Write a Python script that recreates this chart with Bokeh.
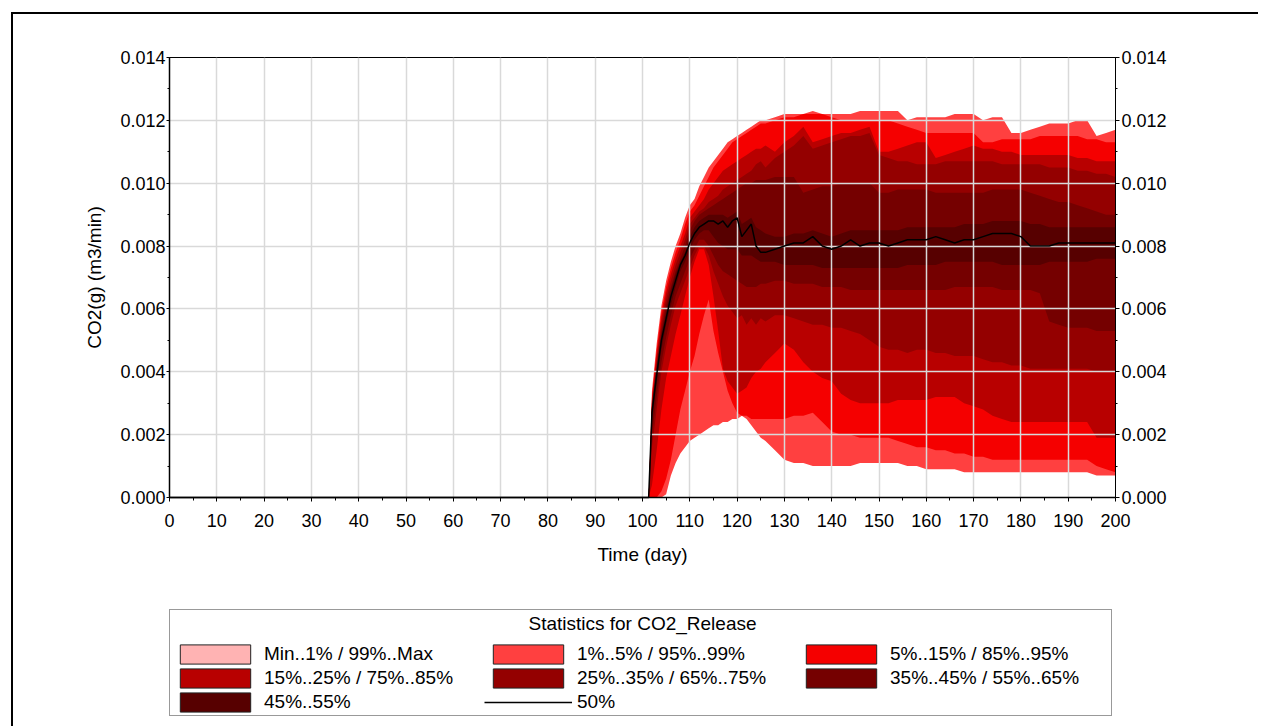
from bokeh.plotting import figure
from bokeh.layouts import column
from bokeh.models import (Range1d, LinearAxis, SingleIntervalTicker, NumeralTickFormatter,
                          Legend, LegendItem, ColumnDataSource, Label)
from bokeh.embed import file_html
from bokeh.resources import INLINE

# ---------------- data ----------------
days = [0, 100, 101.3,
        102, 103, 104, 105, 106, 107, 108, 109, 110, 111, 112, 113, 114, 115, 116, 117, 118, 119,
        120, 121, 122, 123, 124, 125, 126,
        128, 130, 132, 134, 136, 138, 140, 142, 144, 146, 148, 150, 152, 154, 156, 158, 160,
        162, 164, 166, 168, 170, 172, 174, 176, 178, 180, 182, 184, 186, 188, 190, 192, 194,
        196, 198, 200]

p99 = [0, 0, 0,
       .0034, .0049, .0061, .0069, .0075, .0080, .0084, .0089, .0093, .0095, .0099, .0102, .0105,
       .0107, .0109, .0111, .0113, .0114, .0115, .0116, .0117, .0118, .0119, .0120, .0120,
       .0121, .0122, .0122, .0122, .0123, .0122, .0122, .0122, .0122, .0123, .0123, .0123, .0123,
       .0123, .0120, .0121, .0121, .0121, .0121, .0122, .0122, .0122, .0120, .0121, .0121, .0116,
       .0116, .0117, .0118, .0119, .0119, .0119, .0120, .0120, .0115, .0116, .0117]
p95 = [0, 0, 0,
       .0032, .0047, .0059, .0067, .0073, .0078, .0082, .0087, .0091, .0093, .0096, .0099, .0102,
       .0105, .0107, .0109, .0111, .0113, .0114, .0115, .0116, .0117, .0118, .0119, .0119,
       .0120, .0121, .0121, .0122, .0122, .0122, .0121, .0120, .0120, .0120, .0120, .0120, .0120,
       .0119, .0118, .0117, .0116, .0116, .0116, .0116, .0116, .0116, .0113, .0113, .0114, .0114,
       .0114, .0114, .0115, .0115, .0115, .0115, .0115, .0114, .0114, .0113, .0113]
p85 = [0, 0, 0,
       .0031, .0045, .0057, .0065, .0071, .0076, .0080, .0084, .0089, .0091, .0093, .0095, .0098,
       .0100, .0102, .0104, .0105, .0106, .0107, .0108, .0109, .0110, .0111, .0111, .0112,
       .0110, .0113, .0115, .0118, .0113, .0114, .0115, .0116, .0116, .0117, .0118, .0110, .0110,
       .0111, .0112, .0113, .0113, .0108, .0109, .0110, .0111, .0112, .0111, .0111, .0110, .0110,
       .0109, .0109, .0109, .0109, .0109, .0109, .0108, .0108, .0107, .0107, .0107]
p75 = [0, 0, 0,
       .0030, .0043, .0055, .0063, .0069, .0074, .0078, .0082, .0087, .0089, .0091, .0092, .0094,
       .0095, .0096, .0098, .0099, .0100, .0101, .0102, .0103, .0104, .0106, .0107, .0105,
       .0108, .0110, .0112, .0115, .0111, .0112, .0113, .0114, .0115, .0115, .0116, .0109, .0108,
       .0107, .0107, .0106, .0106, .0106, .0107, .0107, .0107, .0107, .0107, .0107, .0106, .0106,
       .0106, .0106, .0106, .0105, .0105, .0105, .0104, .0104, .0103, .0103, .0102]
p65 = [0, 0, 0,
       .0029, .0042, .0053, .0061, .0067, .0072, .0076, .0080, .0085, .0088, .0090, .0091, .0092,
       .0093, .0094, .0095, .0096, .0097, .0098, .0099, .0100, .0100, .0101, .0101, .0101,
       .0102, .0102, .0102, .0097, .0098, .0099, .0099, .0100, .0100, .0100, .0100, .0097, .0097,
       .0098, .0098, .0098, .0098, .0097, .0097, .0097, .0097, .0097, .0097, .0098, .0098, .0098,
       .0098, .0097, .0096, .0095, .0094, .0094, .0093, .0092, .0091, .0090, .0090]
p55 = [0, 0, 0,
       .0028, .0041, .0052, .0059, .0066, .0071, .0075, .0078, .0083, .0086, .0088, .0089, .0090,
       .0090, .0090, .0090, .0089, .0090, .0091, .0087, .0088, .0089, .0086, .0085, .0084,
       .0083, .0083, .0084, .0084, .0085, .0084, .0083, .0084, .0085, .0085, .0085, .0085, .0085,
       .0085, .0086, .0086, .0086, .0086, .0086, .0086, .0087, .0087, .0087, .0088, .0088, .0088,
       .0088, .0087, .0087, .0086, .0086, .0086, .0086, .0086, .0086, .0086, .0086]
p50 = [0, 0, 0,
       .0027, .0039, .0050, .0057, .0064, .0069, .0074, .0077, .0081, .0084, .0086, .0087, .0088,
       .0088, .0087, .0088, .0086, .0088, .0089, .0083, .0085, .0087, .0080, .0078, .0078,
       .0079, .0080, .0081, .0081, .0083, .0080, .0079, .0080, .0082, .0080, .0081, .0081, .0080,
       .0081, .0082, .0082, .0082, .0083, .0082, .0081, .0082, .0082, .0083, .0084, .0084, .0084,
       .0083, .0080, .0080, .0080, .0081, .0081, .0081, .0081, .0081, .0081, .0081]
p45 = [0, 0, 0,
       .0024, .0036, .0047, .0055, .0061, .0067, .0072, .0075, .0079, .0082, .0084, .0085, .0085,
       .0083, .0081, .0080, .0079, .0079, .0079, .0077, .0077, .0077, .0076, .0075, .0075,
       .0075, .0074, .0074, .0074, .0074, .0073, .0073, .0073, .0073, .0073, .0073, .0073, .0073,
       .0073, .0074, .0074, .0074, .0074, .0075, .0075, .0075, .0075, .0075, .0075, .0074, .0074,
       .0074, .0074, .0074, .0075, .0075, .0075, .0075, .0075, .0076, .0076, .0076]
p35 = [0, 0, 0,
       .0020, .0032, .0043, .0051, .0058, .0064, .0068, .0072, .0076, .0079, .0082, .0082, .0080,
       .0077, .0074, .0072, .0071, .0070, .0069, .0068, .0067, .0067, .0067, .0068, .0068,
       .0069, .0069, .0068, .0068, .0068, .0067, .0067, .0067, .0066, .0066, .0066, .0066, .0066,
       .0066, .0066, .0066, .0066, .0066, .0066, .0067, .0067, .0067, .0067, .0067, .0066, .0066,
       .0066, .0066, .0065, .0056, .0055, .0054, .0054, .0054, .0053, .0053, .0053]
p25 = [0, 0, 0,
       .0016, .0028, .0040, .0048, .0055, .0061, .0065, .0069, .0073, .0077, .0080, .0080, .0077,
       .0072, .0068, .0064, .0061, .0059, .0057, .0058, .0055, .0057, .0055, .0057, .0056,
       .0058, .0058, .0057, .0056, .0055, .0055, .0054, .0054, .0053, .0052, .0050, .0048, .0047,
       .0047, .0046, .0047, .0047, .0046, .0046, .0045, .0045, .0045, .0044, .0043, .0043, .0042,
       .0042, .0041, .0041, .0041, .0041, .0041, .0041, .0041, .0040, .0040, .0040]
p15 = [0, 0, 0,
       .0004, .0015, .0028, .0038, .0045, .0052, .0058, .0064, .0070, .0075, .0079, .0079, .0074,
       .0064, .0053, .0041, .0037, .0035, .0033, .0034, .0035, .0038, .0040, .0041, .0043,
       .0046, .0049, .0047, .0043, .0040, .0038, .0037, .0033, .0031, .0030, .0030, .0030, .0030,
       .0031, .0031, .0031, .0031, .0032, .0032, .0032, .0030, .0029, .0028, .0026, .0025, .0024,
       .0024, .0024, .0024, .0024, .0024, .0024, .0024, .0024, .0019, .0019, .0019]
p5 = [0, 0, 0,
      0, 0, .0002, .0006, .0012, .0020, .0028, .0034, .0040, .0045, .0052, .0058, .0063,
      .0053, .0046, .0040, .0034, .0030, .0027, .0026, .0026, .0025, .0025, .0025, .0025,
      .0025, .0025, .0026, .0026, .0027, .0024, .0021, .0020, .0020, .0019, .0019, .0019, .0019,
      .0018, .0017, .0016, .0016, .0015, .0015, .0014, .0014, .0013, .0013, .0012, .0012, .0012,
      .0012, .0012, .0012, .0012, .0012, .0012, .0012, .0012, .0010, .0009, .0008]
p1 = [0, 0, 0,
      0, 0, 0, .0001, .0007, .0011, .0014, .0016, .0018, .0019, .0020, .0021, .0022,
      .0023, .0023, .0024, .0024, .0025, .0025, .0026, .0025, .0023, .0021, .0019, .0018,
      .0015, .0012, .0011, .0011, .0010, .0010, .0010, .0010, .0010, .0011, .0011, .0011, .0011,
      .0011, .0010, .0010, .0009, .0009, .0009, .0009, .0008, .0008, .0008, .0008, .0008, .0008,
      .0008, .0008, .0008, .0008, .0008, .0008, .0008, .0008, .0007, .0007, .0007]

band_labels = ["Min..1% / 99%..Max", "1%..5% / 95%..99%", "5%..15% / 85%..95%",
               "15%..25% / 75%..85%", "25%..35% / 65%..75%", "35%..45% / 55%..65%",
               "45%..55%"]
median_label = "50%"
legend_title = "Statistics for CO2_Release"
x_title = "Time (day)"
y_title = "CO2(g) (m3/min)"

colors = ["#FFB3B3", "#FF4040", "#F50000", "#B80000", "#940000", "#750000", "#570000"]

FONT = "Liberation Sans"

src = ColumnDataSource(dict(days=days, p1=p1, p5=p5, p15=p15, p25=p25, p35=p35, p45=p45,
                            p50=p50, p55=p55, p65=p65, p75=p75, p85=p85, p95=p95, p99=p99))
pairs = [("p1", "p99"), ("p1", "p99"), ("p5", "p95"), ("p15", "p85"), ("p25", "p75"),
         ("p35", "p65"), ("p45", "p55")]
series = dict(p1=p1, p5=p5, p15=p15, p25=p25, p35=p35, p45=p45, p55=p55, p65=p65,
              p75=p75, p85=p85, p95=p95, p99=p99)

# ---------------- main chart ----------------
p = figure(width=1245, height=583, x_range=Range1d(0, 200), y_range=Range1d(0, 0.014),
           output_backend="svg", toolbar_location=None,
           min_border_left=156, min_border_right=143, min_border_top=43, min_border_bottom=100,
           x_axis_label=x_title, y_axis_label=y_title)
p.outline_line_color = "black"
p.outline_line_width = 1
p.background_fill_color = "white"
p.border_fill_color = "white"

xt = SingleIntervalTicker(interval=10, num_minor_ticks=2)
yt = SingleIntervalTicker(interval=0.002, num_minor_ticks=2)
yfmt = NumeralTickFormatter(format="0.000")
p.xaxis.ticker = xt
p.yaxis.ticker = yt
p.yaxis.formatter = yfmt
p.xgrid.ticker = xt
p.ygrid.ticker = yt

ra = LinearAxis(ticker=yt, formatter=yfmt)
p.add_layout(ra, "right")

for ax in [p.xaxis[0], p.yaxis[0], ra]:
    ax.axis_line_color = "black"
    ax.major_tick_line_color = "black"
    ax.minor_tick_line_color = "black"
    ax.major_tick_in = 0
    ax.minor_tick_in = 0
    ax.major_label_text_font = FONT
    ax.major_label_text_font_size = "18px"
    ax.major_label_text_color = "black"
    ax.axis_label_text_font = FONT
    ax.axis_label_text_font_size = "19px"
    ax.axis_label_text_font_style = "normal"
    ax.axis_label_text_color = "black"

p.xaxis.axis_line_width = 1.5
p.yaxis[0].axis_line_width = 1.5
p.xaxis.major_tick_out = 4
p.xaxis.minor_tick_out = 3
p.xaxis.major_label_standoff = 12
p.xaxis.axis_label_standoff = 14
p.yaxis[0].major_tick_out = 3
p.yaxis[0].minor_tick_out = 2
p.yaxis[0].major_label_standoff = 1
p.yaxis[0].axis_label_standoff = 12
ra.major_tick_out = 4
ra.minor_tick_out = 2
ra.major_label_standoff = 2

p.grid.grid_line_color = "#d9d9d9"
p.grid.grid_line_width = 1.5
p.grid.level = "glyph"

for i, (lo, hi) in enumerate(pairs):
    if i == 0:
        continue
    r = p.varea(x="days", y1=lo, y2=hi, source=src, fill_color=colors[i], fill_alpha=1)
    r.level = "underlay"

med = p.line(x="days", y="p50", source=src, line_color="black", line_width=1.5)
med.level = "guide"

# ---------------- legend panel (same data, view range kept off the data) ----------------
lg = figure(width=1245, height=129, x_range=Range1d(0, 200), y_range=Range1d(1, 2),
            output_backend="svg", toolbar_location=None,
            x_axis_location=None, y_axis_location=None,
            min_border_left=0, min_border_right=0, min_border_top=0, min_border_bottom=0)
lg.outline_line_color = None
lg.grid.visible = False
lg.background_fill_color = "white"
lg.border_fill_color = "white"

# legend title, centred over the legend box
lg.add_layout(Label(x=100, y=1.798, x_units="data", y_units="data", text=legend_title,
                    text_font=FONT, text_font_size="19px", text_color="black",
                    text_align="center", text_baseline="middle"))

items = []
for i, (lo, hi) in enumerate(pairs):
    qsrc = ColumnDataSource(dict(left=days[:-1], right=days[1:],
                                 bottom=series[lo][:-1], top=series[hi][:-1]))
    q = lg.quad(left="left", right="right", bottom="bottom", top="top", source=qsrc,
                fill_color=colors[i], line_color="#222222", line_width=1)
    items.append(LegendItem(label=band_labels[i], renderers=[q]))
lmed = lg.line(x="days", y="p50", source=src, line_color="black", line_width=1.5)
items.append(LegendItem(label=median_label, renderers=[lmed]))

legend = Legend(items=items, location=(0, 10), orientation="horizontal", ncols=3,
                glyph_width=88, glyph_height=24, label_standoff=5, label_width=220,
                label_height=19, spacing=0, padding=1, margin=0,
                title=" ", title_text_font=FONT, title_text_font_size="19px",
                title_text_font_style="normal", title_standoff=9,
                border_line_color="#333333", border_line_width=1,
                background_fill_alpha=0,
                label_text_font=FONT, label_text_font_size="19px", label_text_color="black")
lg.add_layout(legend)

layout = column(p, lg, spacing=0)
layout.margin = (12, 0, 0, 11)
layout.styles = {"border-left": "2px solid black", "border-top": "2px solid black"}

open("out.html", "w").write(file_html(layout, INLINE))
